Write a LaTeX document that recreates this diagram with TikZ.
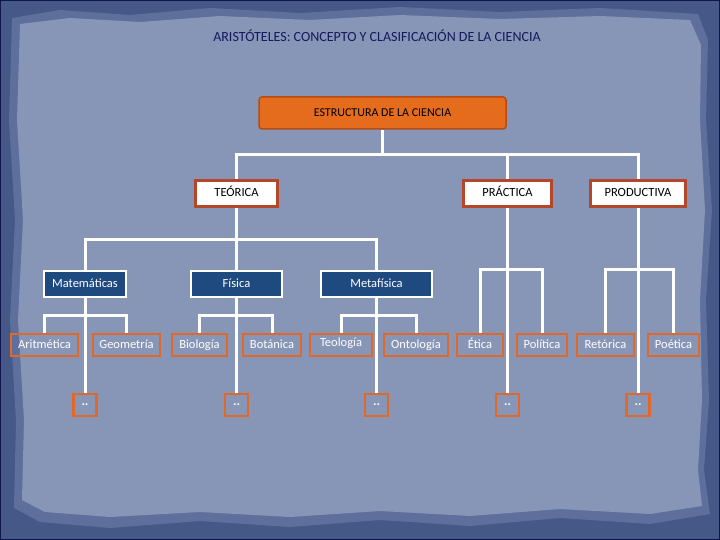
\documentclass[tikz,border=0pt]{standalone}
\usepackage{fontspec}
\setmainfont{Carlito}
\definecolor{frame}{HTML}{465888}
\definecolor{edgec}{HTML}{5E6F9C}
\definecolor{paper}{HTML}{8795B6}
\definecolor{navy}{HTML}{1F4A80}
\definecolor{titlec}{HTML}{141A5E}
\definecolor{rootf}{HTML}{E46C1C}
\definecolor{rootb}{HTML}{B84A14}
\definecolor{mainb}{HTML}{B4472A}
\definecolor{leafb}{HTML}{E0692A}
\pgfdeclarelayer{back}
\pgfdeclarelayer{bg}
\pgfsetlayers{back,bg,main}
\tikzset{
  rootbox/.style={draw=rootb, fill=rootf, line width=1.5pt, rounded corners=3pt,
    minimum width=247, minimum height=32, inner sep=0pt, text height=8.5pt, text depth=2pt,
    font=\fontsize{12}{14}\selectfont},
  mainbox/.style={draw=mainb, fill=white, line width=3pt, minimum height=26,
    inner sep=0pt, text height=8.5pt, text depth=2pt, font=\fontsize{12.5}{14}\selectfont},
  midbox/.style={draw=white, fill=navy, line width=2pt, minimum height=26,
    inner sep=0pt, text=white, text height=9pt, text depth=2.5pt, font=\fontsize{12.5}{14}\selectfont},
  leafbox/.style={draw=leafb, line width=2.5pt, minimum height=22,
    inner sep=0pt, text=white, text height=9pt, text depth=2.5pt, font=\fontsize{12.5}{14}\selectfont},
  dotbox/.style={draw=leafb, line width=2.5pt, minimum width=23, minimum height=22,
    inner sep=0pt, text=white, font=\bfseries\fontsize{13}{14}\selectfont},
  conn/.style={draw=white, line width=3pt}
}
\begin{document}
\begin{tikzpicture}[x=1pt,y=-1pt]
\useasboundingbox (0,0) rectangle (720,540);
\begin{pgfonlayer}{back}
\fill[frame] (0,0) rectangle (720,540);
\fill[edgec] (12,18) -- (60,10) -- (130,15) -- (210,8) -- (300,13) -- (400,7) -- (500,12) -- (600,8) -- (698,14)
  -- (708,40) -- (706,120) -- (712,210) -- (706,300) -- (709,400) -- (704,470) -- (710,514)
  -- (650,524) -- (560,518) -- (470,526) -- (380,520) -- (290,527) -- (200,521) -- (110,528) -- (40,522) -- (14,508)
  -- (16,420) -- (10,320) -- (15,220) -- (9,120) -- cycle;
\fill[paper] (20,24) -- (70,18) -- (140,22) -- (220,16) -- (310,20) -- (400,15) -- (500,19) -- (600,16) -- (690,20)
  -- (701,45) -- (700,120) -- (705,210) -- (700,300) -- (702,400) -- (698,470) -- (702,506)
  -- (650,514) -- (560,509) -- (470,516) -- (380,511) -- (290,517) -- (200,512) -- (110,517) -- (45,512) -- (22,500)
  -- (24,420) -- (18,320) -- (23,220) -- (17,120) -- cycle;
\draw[titlec!80!black, line width=1pt] (0.5,0.5) rectangle (719.5,539.5);
\end{pgfonlayer}

\node[text=titlec, font=\fontsize{14}{16}\selectfont] (title) at (377,36) {ARISTÓTELES: CONCEPTO Y CLASIFICACIÓN DE LA CIENCIA};

\node[rootbox] (root) at (382.5,113) {ESTRUCTURA DE LA CIENCIA};

\node[mainbox, minimum width=82] (teo) at (236.5,193.5) {TEÓRICA};
\node[mainbox, minimum width=88] (pra) at (507.5,193.5) {PRÁCTICA};
\node[mainbox, minimum width=95] (pro) at (638,193.5) {PRODUCTIVA};

\node[midbox, minimum width=82] (mat) at (85,284) {Matemáticas};
\node[midbox, minimum width=91] (fis) at (236.5,284) {Física};
\node[midbox, minimum width=111] (met) at (376.5,284) {Metafísica};

\node[leafbox, minimum width=67] (ari) at (44.5,345) {Aritmética};
\node[leafbox, minimum width=67] (geo) at (126.5,345) {Geometría};
\node[leafbox, minimum width=55] (bio) at (199.5,345) {Biología};
\node[leafbox, minimum width=58] (bot) at (272,345) {Botánica};
\node[leafbox, minimum width=62] (teol) at (341,345) {\raisebox{1.5pt}{Teología}};
\node[leafbox, minimum width=64] (ont) at (416,345) {Ontología};
\node[leafbox, minimum width=46] (eti) at (480,345) {Ética};
\node[leafbox, minimum width=50] (pol) at (542,345) {Política};
\node[leafbox, minimum width=57] (ret) at (605.5,345) {Retórica};
\node[leafbox, minimum width=51] (poe) at (673.5,345) {Poética};

\node[dotbox] (d1) at (85,405) {..};
\node[dotbox] (d2) at (236.5,405) {..};
\node[dotbox] (d3) at (376.5,405) {..};
\node[dotbox] (d4) at (507.5,405) {..};
\node[dotbox] (d5) at (638,405) {..};

\begin{pgfonlayer}{bg}
\draw[conn] (root.south) -- ++(0,25) coordinate (r1);
\draw[conn] (teo.north) |- (r1) -| (pro.north);
\draw[conn] (pra.north) -- (pra.north |- r1);

\draw[conn] (teo.south) -- ++(0,31) coordinate (t1);
\draw[conn] (mat.north) |- (t1) -| (met.north);
\draw[conn] (fis.north) -- (t1);

\draw[conn] (mat.south) -- (d1.north);
\draw[conn] (ari.north) -- ++(0,-17) -| (geo.north);
\draw[conn] (fis.south) -- (d2.north);
\draw[conn] (bio.north) -- ++(0,-17) -| (bot.north);
\draw[conn] (met.south) -- (d3.north);
\draw[conn] (teol.north) -- ++(0,-17) -| (ont.north);

\draw[conn] (pra.south) -- (d4.north);
\draw[conn] (eti.north) -- ++(0,-63) -| (pol.north);
\draw[conn] (pro.south) -- (d5.north);
\draw[conn] (ret.north) -- ++(0,-63) -| (poe.north);
\end{pgfonlayer}
\end{tikzpicture}
\end{document}
